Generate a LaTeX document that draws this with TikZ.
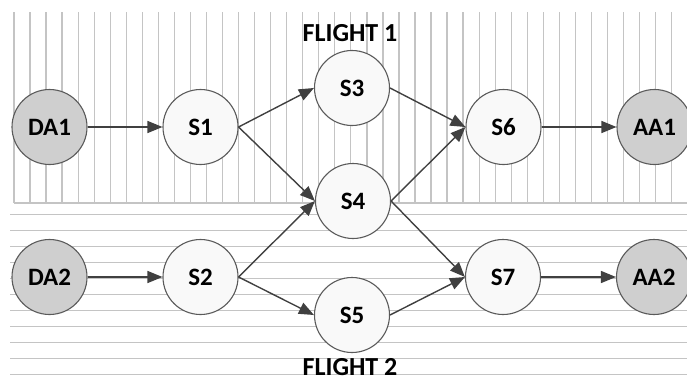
\documentclass[tikz,border=0pt]{standalone}
\usepackage{fontspec}
\setmainfont{Carlito}
\usepackage{tikz}
\usetikzlibrary{positioning, arrows.meta}
\definecolor{linegray}{HTML}{404040}
\definecolor{rimgray}{HTML}{5A5A5A}
\definecolor{hatchgray}{HTML}{C4C4C4}

\begin{document}
\begin{tikzpicture}[x=1pt, y=1pt, node distance=151pt,
  state node/.style={circle,draw=rimgray,line width=1.1pt,fill=gray!5,minimum size=75pt,
    inner sep=0pt,font=\bfseries\fontsize{25}{25}\selectfont},
  end node/.style={state node,fill=gray!38},
  flight label/.style={anchor=base,inner sep=0pt,font=\bfseries\fontsize{26}{26}\selectfont},
  hatch/.style={draw=hatchgray,line width=1.3pt},
  flow/.style={draw=linegray,line width=1.4pt,-{Triangle[length=15pt,width=12pt]}}]

\useasboundingbox (0,0) rectangle (687,-388);

% flight 1 area
\foreach \i in {0,...,41}
  \draw[hatch] (14+16.04*\i,-12) -- (14+16.04*\i,-203);
\draw[hatch] (14,-203) -- (687,-203);

% flight 2 area
\foreach \i in {0,...,10}
  \draw[hatch] (10,-214.3-16*\i) -- (687,-214.3-16*\i);

\node[flight label] (F1) at (350,-41) {FLIGHT 1};
\node[flight label] (F2) at (350,-375) {FLIGHT 2};

\node[end node] (DA1) at (49.5,-127) {DA1};
\node[state node] (S1) [right of=DA1] {S1};
\node[state node] (S3) at (352,-88) {S3};
\node[state node] (S4) at (353,-201) {S4};
\node[state node] (S6) at (503.5,-127) {S6};
\node[end node] (AA1) [right of=S6] {AA1};

\node[end node] (DA2) at (49.5,-277) {DA2};
\node[state node] (S2) [right of=DA2] {S2};
\node[state node] (S5) at (352,-315) {S5};
\node[state node] (S7) at (503,-277) {S7};
\node[end node] (AA2) [right of=S7] {AA2};

\path[every edge/.style={flow}]
(DA1) edge (S1)
(S1.east) edge (S3.west)
(S1.east) edge (S4.west)
(S3.east) edge (S6.west)
(S4.east) edge (S6.west)
(S6) edge (AA1)
(DA2) edge (S2)
(S2.east) edge (S4.west)
(S2.east) edge (S5.west)
(S4.east) edge (S7.west)
(S5.east) edge (S7.west)
(S7) edge (AA2)
;

\end{tikzpicture}
\end{document}
